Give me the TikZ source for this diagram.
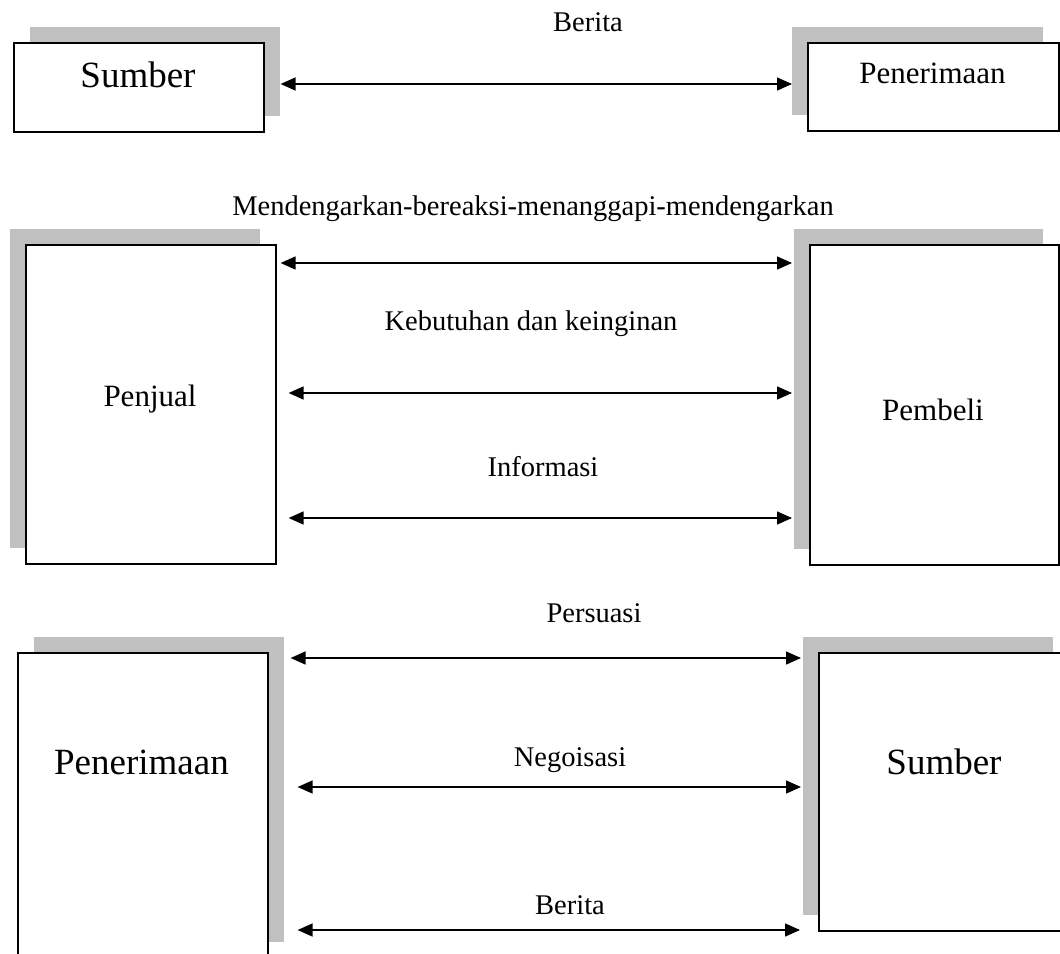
\documentclass[tikz,border=0pt]{standalone}
\usepackage{fontspec}
\setmainfont{Liberation Serif}
\usetikzlibrary{arrows.meta,shadows,calc}
\definecolor{shadowgray}{HTML}{C0C0C0}
\tikzset{
  box/.style={draw=black, line width=1.6pt, fill=white, rectangle, inner sep=0pt, anchor=north west},
  shR/.style={general shadow={fill=shadowgray, shadow xshift=16pt, shadow yshift=16pt}},
  shL/.style={general shadow={fill=shadowgray, shadow xshift=-16pt, shadow yshift=16pt}},
  boxtext/.style={font=\fontsize{31pt}{36pt}\selectfont, inner sep=0pt, anchor=base},
  bigtext/.style={font=\fontsize{37pt}{44pt}\selectfont, inner sep=0pt, anchor=base},
  lbl/.style={font=\fontsize{28.5pt}{34pt}\selectfont, inner sep=0pt, anchor=base},
  arr/.style={{Triangle[length=15pt,width=13pt]}-{Triangle[length=15pt,width=13pt]}, line width=1.5pt}
}
\begin{document}
\begin{tikzpicture}[x=1pt,y=-1pt]
\useasboundingbox (0,0) rectangle (1060,953);
\clip (0,0) rectangle (1060,953);
\fill[white] (0,0) rectangle (1060,953);
% Row 1
\node[box, shR, minimum width=250pt, minimum height=89pt] (s1) at (13,42) {};
\node[box, shL, minimum width=251pt, minimum height=88pt] (p1) at (807,42) {};
\node[bigtext] (s1t) at (138,87) {Sumber};
\node[boxtext] (p1t) at (932.5,83) {Penerimaan};
\node[lbl] (l1) at (588,31) {Berita};
\draw[arr] ($(s1.north east)+(16,42)$) -- ($(p1.north west)+(-15,42)$);
% Row 2
\node[box, shL, minimum width=250pt, minimum height=319pt] (pj) at (25,244) {};
\node[box, shL, minimum width=249pt, minimum height=320pt] (pb) at (809,244) {};
\node[boxtext] (pjt) at (150,406) {Penjual};
\node[boxtext] (pbt) at (933,420) {Pembeli};
\node[lbl] (l2) at (533,215) {Mendengarkan-bereaksi-menanggapi-mendengarkan};
\node[lbl] (l3) at (531,330) {Kebutuhan dan keinginan};
\node[lbl] (l4) at (543,476) {Informasi};
\draw[arr] ($(pj.north east)+(4,19)$) -- ($(pb.north west)+(-17,19)$);
\draw[arr] ($(pj.north east)+(12,149)$) -- ($(pb.north west)+(-17,149)$);
\draw[arr] ($(pj.north east)+(12,274)$) -- ($(pb.north west)+(-17,274)$);
% Row 3
\node[box, shR, minimum width=250pt, minimum height=305pt] (pr) at (17,652) {};
\node[box, shL, minimum width=250pt, minimum height=278pt] (sb) at (818,652) {};
\node[bigtext] (prt) at (141.5,774) {Penerimaan};
\node[bigtext] (sbt) at (944,774) {Sumber};
\node[lbl] (l5) at (594,622) {Persuasi};
\node[lbl] (l6) at (570,766) {Negoisasi};
\node[lbl] (l7) at (570,914) {Berita};
\draw[arr] ($(pr.north east)+(22,6)$) -- ($(sb.north west)+(-17,6)$);
\draw[arr] ($(pr.north east)+(29,135)$) -- ($(sb.north west)+(-17,135)$);
\draw[arr] ($(pr.north east)+(29,278)$) -- ($(sb.north west)+(-18,278)$);
\end{tikzpicture}
\end{document}
